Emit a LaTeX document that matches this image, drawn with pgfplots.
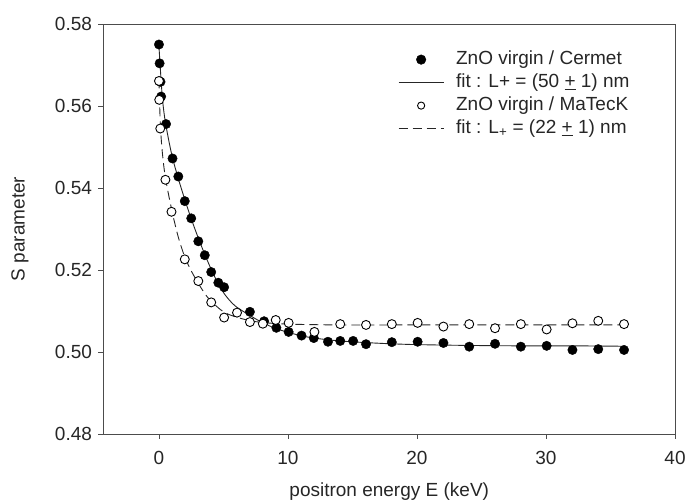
\documentclass[border=0pt]{standalone}
\usepackage{pgfplots}
\pgfplotsset{compat=1.18}
\usepackage{fontspec}
\setmainfont{Liberation Sans}
\begin{document}
\fontsize{19pt}{23pt}\selectfont
\begin{tikzpicture}
\begin{axis}[
  scale only axis,
  width=571.5pt, height=410pt,
  xmin=-4.3, xmax=40, ymin=0.48, ymax=0.58,
  xtick={0,10,20,30,40},
  ytick={0.48,0.50,0.52,0.54,0.56,0.58},
  yticklabel style={/pgf/number format/.cd,fixed,fixed zerofill,precision=2},
  xticklabel style={yshift=-6pt},
  /pgf/number format/assume math mode=true,
  tick pos=left,
  tick align=outside,
  major tick length=5pt,
  axis line style={black!70, line width=0.9pt},
  tick style={black!70, line width=0.9pt},
  every tick label/.append style={font=\fontsize{19pt}{23pt}\selectfont, text=black!85},
  label style={font=\fontsize{19pt}{23pt}\selectfont, text=black!85},
  xlabel={positron energy E (keV)},
  ylabel={S parameter},
  xlabel style={at={(axis description cs:0.5,-0.1415)}, anchor=center},
  ylabel style={at={(axis description cs:-0.146,0.5)}, anchor=center},
  legend style={at={(0.5153,0.938)}, anchor=north west, draw=none, fill=none, inner sep=0pt,
    font=\fontsize{19pt}{23pt}\selectfont, text=black!85,
    nodes={inner sep=1pt, text height=14pt, text depth=4pt},
    row sep=3pt,
    /tikz/every odd column/.append style={column sep=11pt}},
  legend cell align=left,
]
% data: Cermet (filled)
\addplot[only marks, mark=*, mark size=4.7pt, mark options={fill=black, draw=black}, forget plot] coordinates {
(0,0.5750) (0.05,0.5704) (0.12,0.5659) (0.17,0.5623) (0.55,0.5556) (1.05,0.5472)
(1.5,0.5428) (2.0,0.5368) (2.5,0.5326) (3.05,0.5270) (3.55,0.5236) (4.05,0.5195)
(4.6,0.5169) (5.05,0.5158) (7.05,0.5098) (8.15,0.5075) (9.1,0.5059) (10.05,0.5049)
(11.05,0.5040) (12.0,0.5034) (13.1,0.5025) (14.05,0.5027) (15.05,0.5027) (16.05,0.5019)
(18.05,0.5024) (20.05,0.5025) (22.05,0.5022) (24.05,0.5013) (26.05,0.5020) (28.05,0.5013)
(30.05,0.5015) (32.05,0.5005) (34.05,0.5007) (36.05,0.5005)
};
% data: MaTecK (open)
\addplot[only marks, mark=*, mark size=4.5pt, mark options={fill=white, draw=black, line width=0.9pt}, forget plot] coordinates {
(0,0.5661) (0.02,0.5615) (0.1,0.5545) (0.5,0.5420) (0.97,0.5342) (2.0,0.5226)
(3.05,0.5173) (4.05,0.5121) (5.05,0.5084) (6.05,0.5096) (7.05,0.5073) (8.05,0.5069)
(9.05,0.5078) (10.05,0.5071) (12.05,0.5049) (14.05,0.5068) (16.05,0.5066) (18.05,0.5068)
(20.05,0.5071) (22.05,0.5062) (24.05,0.5068) (26.05,0.5058) (28.05,0.5068) (30.05,0.5055)
(32.05,0.5070) (34.05,0.5076) (36.05,0.5068)
};
\addlegendimage{legend image code/.code={\fill[black] (22.5pt,0pt) circle (4.8pt);}}
\addlegendentry{ZnO virgin / Cermet}
% fit: solid
\addplot[black!85, line width=0.9pt, smooth, legend image code/.code={\draw[black!85, line width=0.9pt] (0pt,0pt) -- (45pt,0pt);}] coordinates {
(0,0.5745) (0.25,0.5625) (0.5,0.5560) (1,0.5480) (1.5,0.5423) (2,0.5372) (2.5,0.5325)
(3,0.5282) (3.5,0.5242) (4,0.5205) (4.5,0.5172) (5,0.5145) (5.5,0.5125) (6,0.5110)
(7,0.5090) (8,0.5072) (9,0.5058) (10,0.5048) (11,0.5040) (12,0.5034) (14,0.5027)
(16,0.5023) (18,0.5020) (20,0.5018) (24,0.5016) (28,0.5015) (32,0.5015) (36.05,0.5014)
};
\addlegendentry{fit : L+ = (50 \underline{+} 1) nm}
\addlegendimage{legend image code/.code={\draw[black, line width=0.9pt, fill=white] (22.5pt,0pt) circle (3.6pt);}}
\addlegendentry{ZnO virgin / MaTecK}
% fit: dashed
\addplot[black!85, line width=0.9pt, dash pattern=on 9pt off 5pt, smooth, legend image code/.code={\draw[black!85, line width=0.9pt, dash pattern=on 9pt off 5pt] (0pt,0pt) -- (45pt,0pt);}] coordinates {
(0,0.5665) (0.1,0.5560) (0.25,0.5490) (0.5,0.5425) (1,0.5345) (1.5,0.5280) (2,0.5232)
(2.5,0.5198) (3,0.5170) (3.5,0.5145) (4,0.5125) (5,0.5098) (6,0.5085) (7,0.5077)
(8,0.5072) (10,0.5068) (14,0.5066) (20,0.5066) (36.05,0.5066)
};
\addlegendentry{fit : L\textsubscript{+} = (22 \underline{+} 1) nm}
\end{axis}
\pgfresetboundingbox
\path[use as bounding box] (current axis.south west) ++(-103.5pt,-68pt) rectangle ++(688pt,502pt);
\end{tikzpicture}
\end{document}
